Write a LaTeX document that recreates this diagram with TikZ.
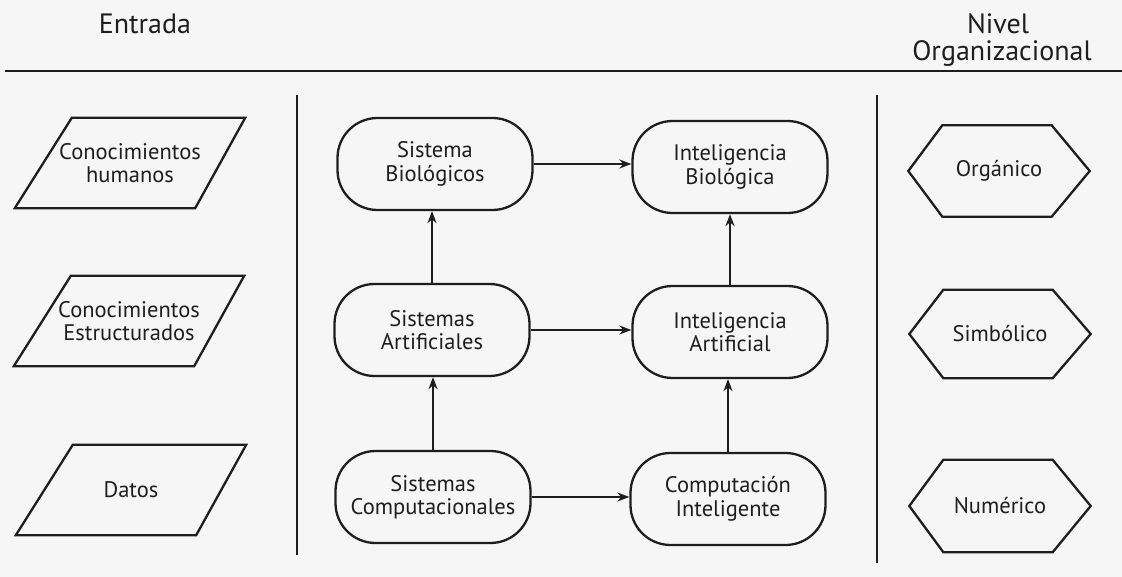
\documentclass[tikz,border=0pt]{standalone}
\usepackage{fontspec}
\setmainfont{PT Sans}
\usetikzlibrary{arrows.meta,calc}
\definecolor{ink}{HTML}{1E1E1E}
\definecolor{paper}{HTML}{F6F6F6}
\tikzset{
  base/.style={font=\fontsize{22.5}{23.5}\selectfont, text=ink, align=center, inner sep=0pt},
  head/.style={base, font=\fontsize{28}{30}\selectfont},
  rbox/.style={base, draw=ink, line width=2.3pt, rounded corners=40pt, minimum width=195pt, minimum height=92pt},
  txt/.style={base, minimum width=180pt, minimum height=90pt},
  arr/.style={draw=ink, line width=2pt, -{Stealth[length=12pt,width=9pt]}},
  rule/.style={draw=ink, line width=2.2pt},
  outline/.style={draw=ink, line width=2.3pt, line join=miter}
}
\newcommand{\myslant}[1]{\draw[outline] (#1.south west) -- ($(#1.north west)+(57,0)$) -- (#1.north east) -- ($(#1.south east)+(-50,0)$) -- cycle;}
\newcommand{\myhex}[1]{\draw[outline] (#1.west) -- ($(#1.north west)+(34,0)$) -- ($(#1.north east)+(-38,0)$) -- (#1.east) -- ($(#1.south east)+(-38,0)$) -- ($(#1.south west)+(34,0)$) -- cycle;}
\begin{document}
\begin{tikzpicture}[x=1pt,y=-1pt]
\path[fill=paper] (0,0) rectangle (1122,577);
\useasboundingbox (0,0) rectangle (1122,577);
% header
\node[head] (hin) at (145,24) {Entrada};
\node[head] (hniv) at (998,24) {Nivel};
\node[head] (horg) at (1002,54) {Organizacional};
\coordinate (hl) at (5,71);
\coordinate (hr) at (1122,71);
\draw[rule, line width=2.8pt] (hl) -- (hr);
% separators
\coordinate (v1t) at (297,95);
\coordinate (v1b) at (297,555);
\coordinate (v2t) at (877,95);
\coordinate (v2b) at (877,563);
\draw[rule] (v1t) -- (v1b);
\draw[rule] (v2t) -- (v2b);
% inputs
\node[txt, minimum width=230pt] (p1) at (130,163) {Conocimientos\\humanos};
\node[txt, minimum width=230pt] (p2) at (129,321) {Conocimientos\\Estructurados};
\node[txt, minimum width=230pt] (p3) at (131,490) {Datos};
\myslant{p1}
\myslant{p2}
\myslant{p3}
% systems
\node[rbox] (sb) at (435,164) {Sistema\\Biológicos};
\node[rbox] (sa) at (432,330) {Sistemas\\Artificiales};
\node[rbox] (sc) at (433,497) {Sistemas\\Computacionales};
\node[rbox] (ib) at (730,167) {Inteligencia\\Biológica};
\node[rbox] (ia) at (730,332) {Inteligencia\\Artificial};
\node[rbox] (ci) at (728,499) {Computación\\Inteligente};
\draw[arr] (sb.east) -- (sb.east -| ib.west);
\draw[arr] (sa.east) -- (sa.east -| ia.west);
\draw[arr] (sc.east) -- (sc.east -| ci.west);
\draw[arr] (sa.north) -- (sa.north |- sb.south);
\draw[arr] (sc.north) -- (sc.north |- sa.south);
\draw[arr] (ia.north) -- (ia.north |- ib.south);
\draw[arr] (ci.north) -- (ci.north |- ia.south);
% levels
\node[txt, minimum width=181pt, minimum height=91pt] (h1) at (999,171) {Orgánico};
\node[txt, minimum width=181pt, minimum height=88pt] (h2) at (1000,334) {Simbólico};
\node[txt, minimum width=181pt, minimum height=92pt] (h3) at (1000,506) {Numérico};
\myhex{h1}
\myhex{h2}
\myhex{h3}
\end{tikzpicture}
\end{document}
